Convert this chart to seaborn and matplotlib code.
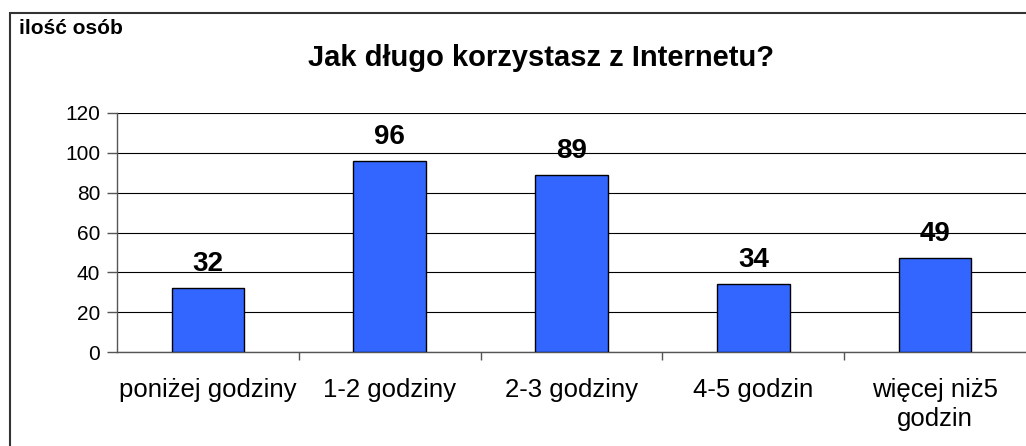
import matplotlib
matplotlib.use("Agg")
import matplotlib.pyplot as plt
import matplotlib.patches as mpatches
import seaborn as sns
import pandas as pd

# Data
categories = ["poniżej godziny", "1-2 godziny", "2-3 godziny", "4-5 godzin", "więcej niż5\ngodzin"]
bar_heights = [32, 96, 89, 34, 47]
bar_labels = ["32", "96", "89", "34", "49"]
y_ticks = [0, 20, 40, 60, 80, 100, 120]

df = pd.DataFrame({"kategoria": categories, "osoby": bar_heights})

sns.set_style("white")
plt.rcParams["font.family"] = ["Liberation Sans", "DejaVu Sans"]
plt.rcParams["text.color"] = "black"
plt.rcParams["xtick.color"] = "black"
plt.rcParams["ytick.color"] = "black"

fig = plt.figure(figsize=(10.26, 4.46), dpi=100)
ax = fig.add_axes([117 / 1026, 1 - 352 / 446, 1 - 117 / 1026, (352 - 113) / 446])

sns.barplot(data=df, x="kategoria", y="osoby", ax=ax, color="#3366FF",
            saturation=1, width=0.4, edgecolor="black", linewidth=1, zorder=3)

# Labels above bars
for i, (h, lab) in enumerate(zip(bar_heights, bar_labels)):
    ax.annotate(lab, (i, h), xytext=(0, 8), textcoords="offset points",
                ha="center", va="bottom", fontsize=20, fontweight="bold")

ax.set_ylim(0, 120)
ax.set_xlim(-0.5, len(categories) - 0.5)
ax.set_yticks(y_ticks)
ax.set_yticklabels([str(t) for t in y_ticks], fontsize=15)
ax.yaxis.grid(True, color="black", linewidth=0.8, zorder=0)
ax.set_axisbelow(True)

# x ticks on category boundaries, labels in centres
ax.set_xticks([i + 0.5 for i in range(len(categories) - 1)], minor=False)
ax.set_xticklabels([])
ax.set_xticks(range(len(categories)), minor=True)
ax.set_xticklabels(categories, minor=True, fontsize=18.5, linespacing=1.25)
ax.tick_params(axis="x", which="major", direction="out", length=6, color="#555555", width=1, bottom=True)
ax.tick_params(axis="x", which="minor", length=0, pad=19)
ax.tick_params(axis="y", direction="out", length=7, color="#555555", width=1, left=True, pad=5)

ax.set_xlabel("")
ax.set_ylabel("")
for s in ["top", "right"]:
    ax.spines[s].set_visible(False)
ax.spines["left"].set_color("#555555")
ax.spines["bottom"].set_color("#555555")
ax.spines["left"].set_linewidth(1)
ax.spines["bottom"].set_linewidth(1)

# Outer frame (right and bottom edges lie outside the image)
frame = mpatches.Rectangle((10 / 1026, -0.05), 1.2, 1 - 13 / 446 + 0.05,
                           transform=fig.transFigure, fill=False,
                           edgecolor="#333333", linewidth=1.5)
fig.patches.append(frame)

fig.text(541 / 1026, 1 - 58 / 446, "Jak długo korzystasz z Internetu?",
         ha="center", va="center", fontsize=21, fontweight="bold")
fig.text(19 / 1026, 1 - 28 / 446, "ilość osób", ha="left", va="center",
         fontsize=15, fontweight="bold")

fig.savefig("out.png", dpi=100)
